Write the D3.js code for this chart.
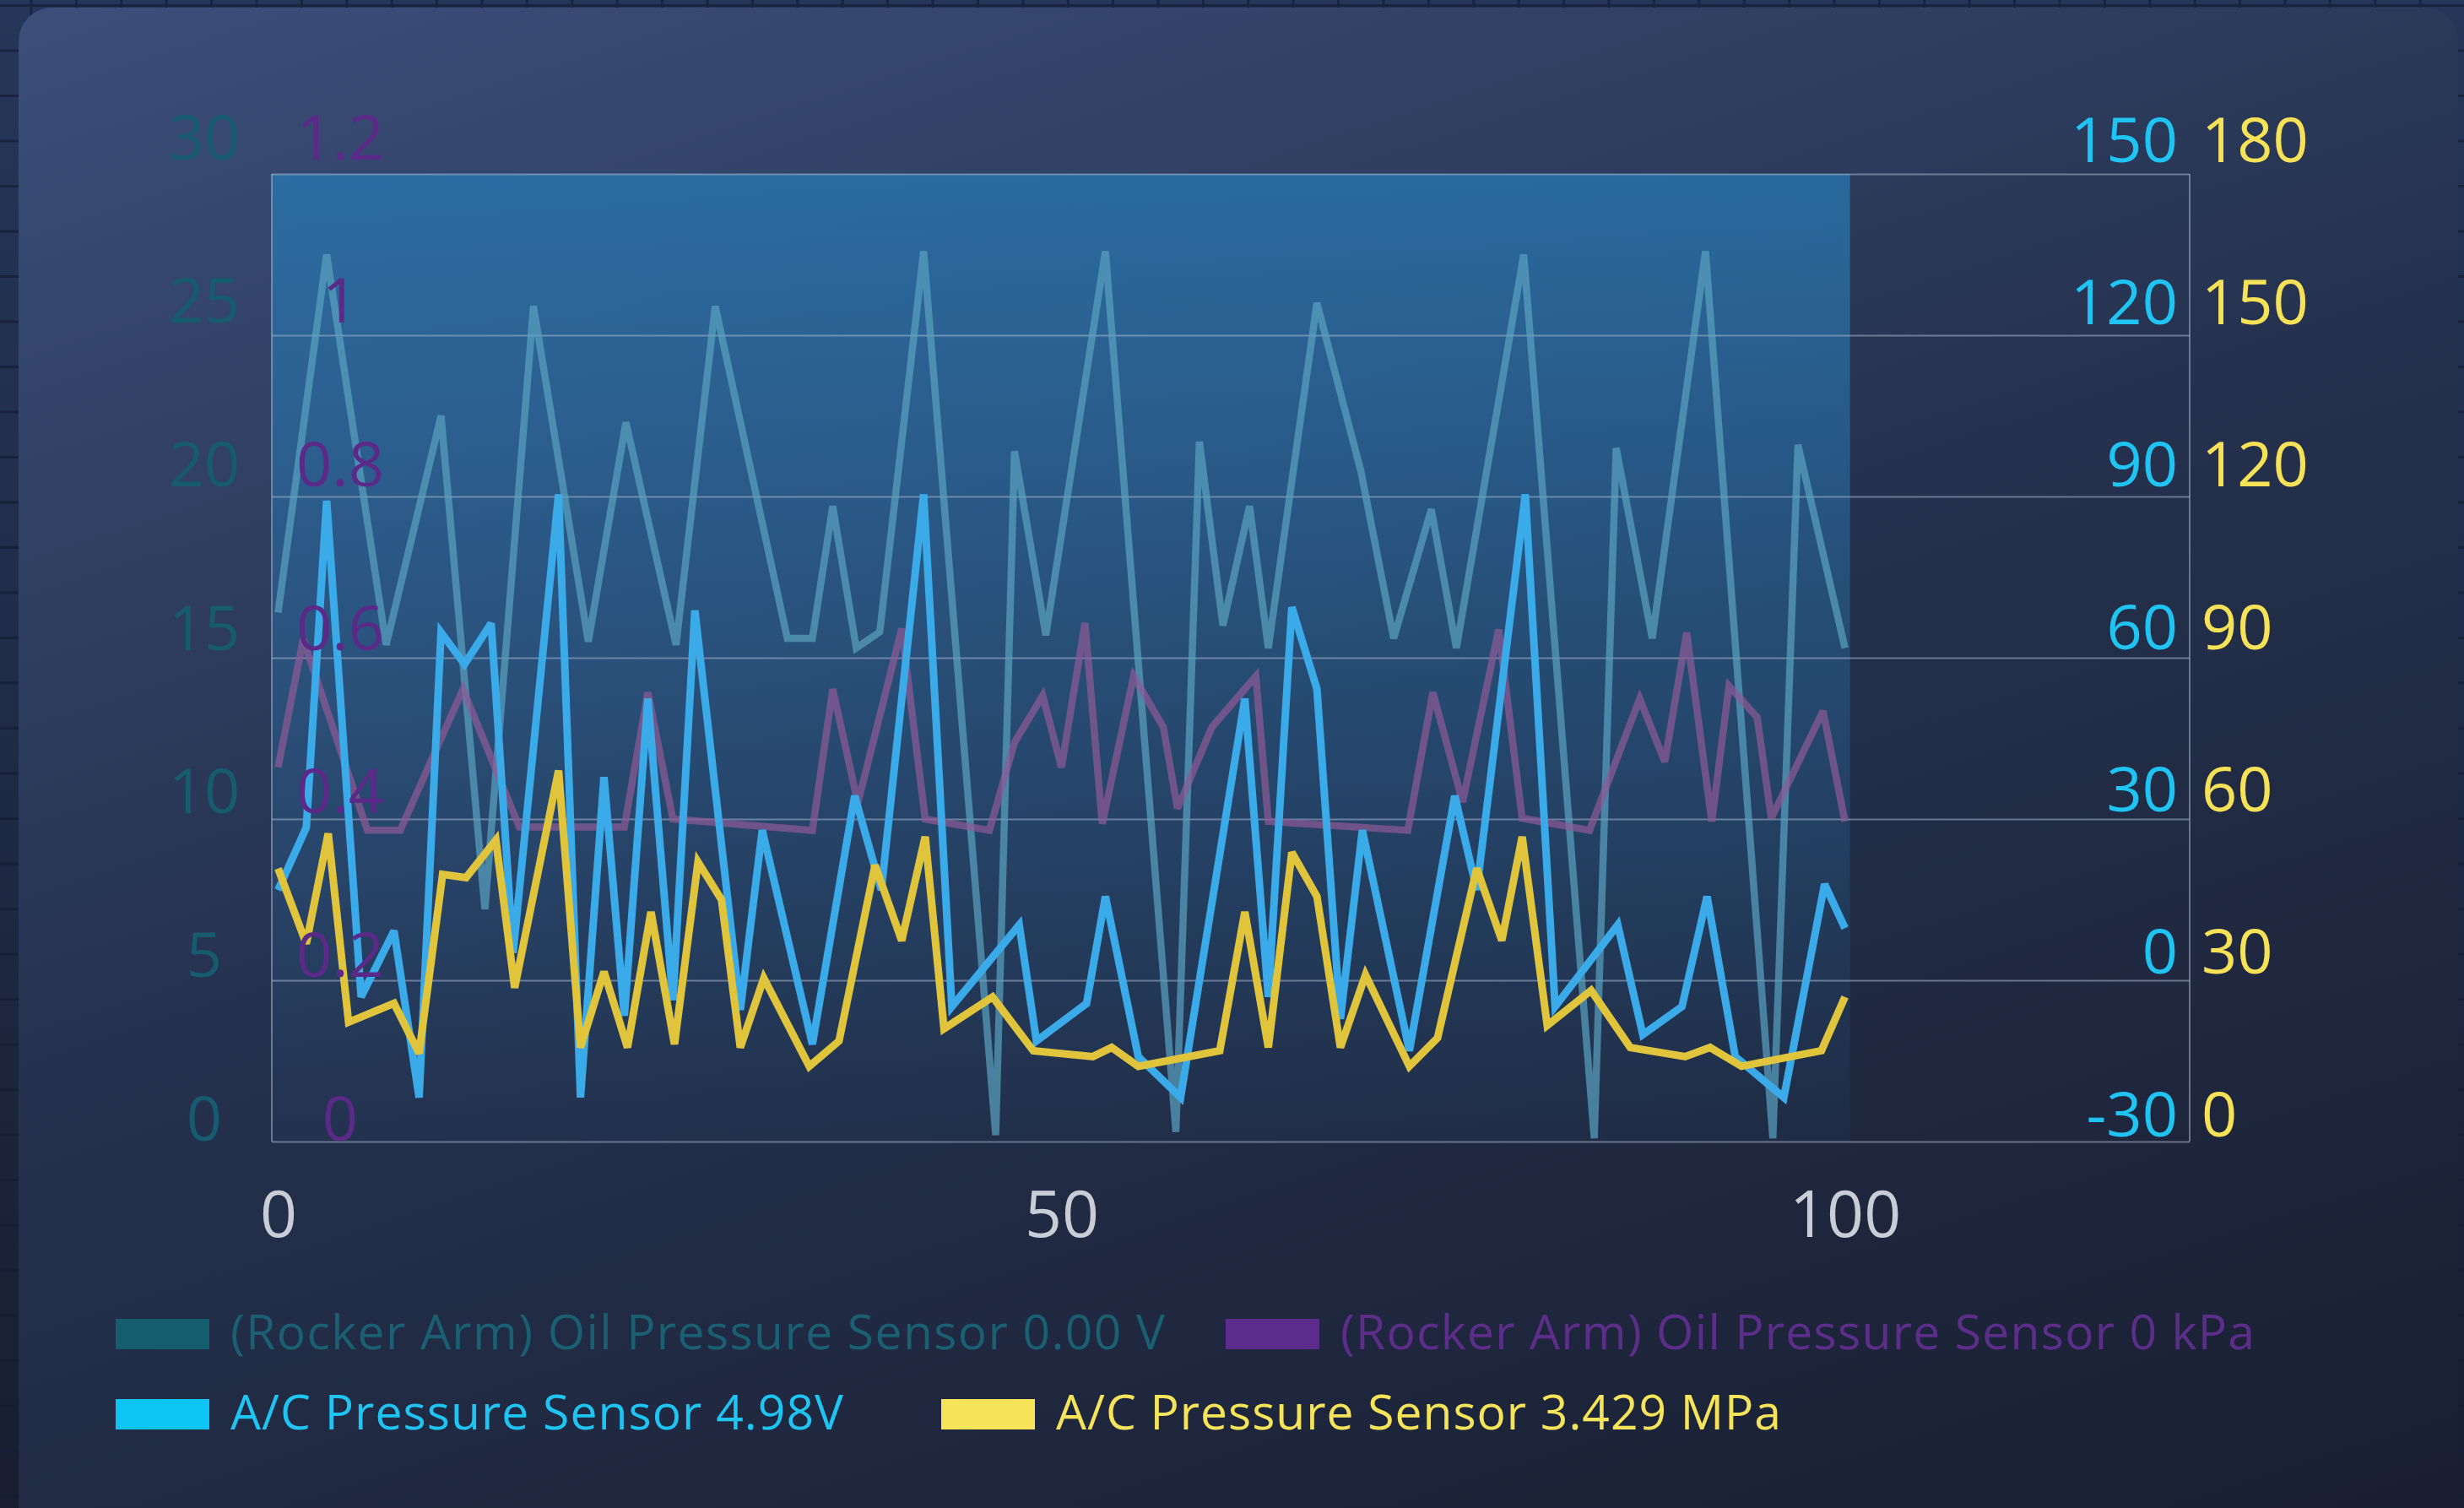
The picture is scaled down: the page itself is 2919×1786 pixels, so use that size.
<!DOCTYPE html>
<html><head><meta charset="utf-8">
<script src="https://cdn.jsdelivr.net/npm/d3@7/dist/d3.min.js"></script>
<style>html,body{margin:0;padding:0;background:#1b2236;overflow:hidden}</style>
</head><body>
<svg id="chart" width="2919" height="1786"></svg>
<script>
// ---------------- DATA ----------------
const seriesNames = [
  "(Rocker Arm) Oil Pressure Sensor 0.00 V",
  "(Rocker Arm) Oil Pressure Sensor 0 kPa",
  "A/C Pressure Sensor 4.98V",
  "A/C Pressure Sensor 3.429 MPa"
];
const xTicks = [0, 50, 100];
const tealTicks = [0, 5, 10, 15, 20, 25, 30];
const purpleTicks = [0, 0.2, 0.4, 0.6, 0.8, 1, 1.2];
const blueTicks = [-30, 0, 30, 60, 90, 120, 150];
const yellowTicks = [0, 30, 60, 90, 120, 150, 180];

const tealX = [0, 3.1, 6.9, 10.4, 13.2, 16.3, 19.8, 22.2, 25.4, 27.9, 32.5, 34.1, 35.4, 36.9, 38.4, 41.2, 45.8, 47.0, 49.0, 52.8, 57.3, 58.8, 60.3, 62.0, 63.2, 66.3, 69.1, 71.2, 73.6, 75.2, 79.5, 84.0, 85.4, 87.7, 91.1, 95.4, 97.0, 100];
const tealY = [16.4, 27.5, 15.4, 22.5, 7.2, 25.9, 15.5, 22.3, 15.4, 25.9, 15.6, 15.6, 19.7, 15.3, 15.8, 27.6, 0.2, 21.4, 15.7, 27.6, 0.3, 21.7, 16.0, 19.7, 15.3, 26.0, 20.8, 15.6, 19.6, 15.3, 27.5, 0.1, 21.5, 15.6, 27.6, 0.1, 21.6, 15.3];

const purpleX = [0, 1.6, 5.7, 7.8, 11.8, 15.4, 22.1, 23.6, 25.2, 34.1, 35.4, 37.0, 39.8, 41.3, 45.4, 47.0, 48.8, 50.0, 51.5, 52.6, 54.6, 56.5, 57.4, 59.6, 62.4, 63.2, 72.1, 73.7, 75.6, 77.9, 79.4, 83.7, 86.9, 88.5, 89.9, 91.5, 92.6, 94.4, 95.3, 98.6, 100];
const purpleY = [0.464, 0.623, 0.386, 0.386, 0.561, 0.39, 0.39, 0.557, 0.40, 0.386, 0.561, 0.42, 0.636, 0.40, 0.386, 0.495, 0.553, 0.464, 0.643, 0.394, 0.577, 0.514, 0.413, 0.514, 0.577, 0.397, 0.386, 0.557, 0.421, 0.635, 0.401, 0.386, 0.549, 0.471, 0.631, 0.397, 0.565, 0.526, 0.401, 0.534, 0.397];

const blueX = [0, 1.8, 3.1, 5.3, 7.4, 9.0, 10.4, 11.9, 13.6, 15.0, 17.9, 19.3, 20.8, 22.1, 23.6, 25.2, 26.6, 29.5, 30.9, 34.1, 36.8, 38.5, 41.2, 43.0, 47.3, 48.4, 51.6, 52.8, 54.9, 57.6, 61.7, 63.2, 64.7, 66.3, 67.8, 69.2, 72.2, 75.1, 76.5, 79.6, 81.5, 85.5, 87.1, 89.6, 91.2, 93.0, 96.1, 98.7, 100];
const blueY = [16.8, 28.4, 89.2, -3.1, 9.2, -21.8, 64.7, 58.8, 66.4, 5.1, 90.4, -21.8, 37.8, -6.6, 52.4, -3.7, 68.8, -5.5, 27.9, -11.9, 34.3, 16.8, 90.4, -4.9, 10.3, -11.3, -4.3, 15.6, -14.2, -21.8, 52.4, -3.1, 69.4, 54.2, -7.2, 27.9, -13.1, 34.3, 16.8, 90.4, -4.9, 10.3, -10.1, -4.9, 15.6, -14.2, -21.8, 17.9, 9.7];

const yellowX = [0, 1.8, 3.2, 4.5, 7.4, 9.0, 10.5, 12.0, 13.9, 15.1, 17.9, 19.3, 20.8, 22.3, 23.8, 25.3, 26.8, 28.3, 29.5, 31.0, 33.9, 35.8, 38.1, 39.8, 41.3, 42.5, 45.6, 48.2, 52.0, 53.2, 54.9, 60.1, 61.7, 63.2, 64.7, 66.3, 67.8, 69.4, 72.2, 74.0, 76.5, 78.1, 79.4, 81.0, 83.8, 86.3, 89.8, 91.4, 93.4, 98.5, 100];
const yellowY = [50.8, 36.8, 57.3, 22.2, 25.7, 16.4, 49.7, 49.1, 56.1, 28.6, 69.0, 17.5, 31.6, 17.5, 42.7, 18.1, 52.0, 45.0, 17.5, 30.4, 14.0, 18.7, 51.4, 37.4, 56.7, 21.0, 26.9, 16.9, 15.8, 17.5, 14.0, 16.9, 42.7, 17.5, 53.8, 45.6, 17.5, 31.0, 14.0, 19.3, 50.8, 37.4, 56.7, 21.6, 28.1, 17.5, 15.8, 17.5, 14.0, 16.9, 26.9];

// ---------------- LAYOUT ----------------
const W = 2919, H = 1786;
const L = 322, R = 2594, T = 206, B = 1352;
const FONT = "'Open Sans', 'Noto Sans', sans-serif";

const svg = d3.select("#chart");
const defs = svg.append("defs");

// outer background
const og = defs.append("linearGradient").attr("id", "outerG").attr("x1", 0).attr("y1", 0).attr("x2", 0).attr("y2", 1);
og.append("stop").attr("offset", 0).attr("stop-color", "#26365a");
og.append("stop").attr("offset", 1).attr("stop-color", "#181e30");
svg.append("rect").attr("width", W).attr("height", H).attr("fill", "url(#outerG)");
const bgGrid = svg.append("g").attr("stroke", "#141d33").attr("stroke-width", 3).attr("opacity", 0.7);
d3.range(37, W, 53.4).forEach(v => bgGrid.append("line").attr("x1", v).attr("x2", v).attr("y1", 0).attr("y2", H));
d3.range(6.5, H, 53.5).forEach(v => bgGrid.append("line").attr("y1", v).attr("y2", v).attr("x1", 0).attr("x2", W));

// card
const cg = defs.append("linearGradient").attr("id", "cardG").attr("gradientUnits", "userSpaceOnUse")
  .attr("x1", 0).attr("y1", 0).attr("x2", 800).attr("y2", 2471);
cg.append("stop").attr("offset", 0).attr("stop-color", "rgb(60,79,122)");
cg.append("stop").attr("offset", 0.5).attr("stop-color", "rgb(36,48,76)");
cg.append("stop").attr("offset", 1).attr("stop-color", "rgb(25,31,49)");
svg.append("rect").attr("x", 22).attr("y", 9).attr("width", 2890).attr("height", 1830).attr("rx", 40)
  .attr("fill", "url(#cardG)");

// scales
const x = d3.scaleLinear().domain([-0.4, 122]).range([L, R]);
const yTeal = d3.scaleLinear().domain([0, 30]).range([B, T]);
const yPurple = d3.scaleLinear().domain([0, 1.2]).range([B, T]);
const yBlue = d3.scaleLinear().domain([-30, 150]).range([B, T]);
const yYellow = d3.scaleLinear().domain([0, 180]).range([B, T]);

// shaded data region
const sg = defs.append("linearGradient").attr("id", "shadeG").attr("x1", 0).attr("y1", 0).attr("x2", 0).attr("y2", 1);
sg.append("stop").attr("offset", 0).attr("stop-color", "rgb(40,120,178)").attr("stop-opacity", 0.75);
sg.append("stop").attr("offset", 0.5).attr("stop-color", "rgb(40,120,178)").attr("stop-opacity", 0.38);
sg.append("stop").attr("offset", 1).attr("stop-color", "rgb(40,120,178)").attr("stop-opacity", 0.04);
const dataMax = d3.max(tealX);
svg.append("rect").attr("x", L).attr("y", T).attr("width", x(dataMax) + 6 - L).attr("height", B - T)
  .attr("fill", "url(#shadeG)");

// gridlines
const gridColor = "rgba(165,180,205,0.55)";
const grid = svg.append("g").attr("transform", `translate(${L},0)`)
  .call(d3.axisRight(yTeal).tickValues(tealTicks).tickSize(R - L).tickFormat(""));
grid.select(".domain").remove();
grid.selectAll("line").attr("stroke", gridColor).attr("stroke-width", 2);
svg.append("line").attr("x1", L).attr("x2", L).attr("y1", T).attr("y2", B).attr("stroke", gridColor).attr("stroke-width", 2);
svg.append("line").attr("x1", R).attr("x2", R).attr("y1", T).attr("y2", B).attr("stroke", gridColor).attr("stroke-width", 2);

// lines
const series = [
  {xs: tealX, ys: tealY, y: yTeal, color: "rgba(90,162,192,0.7)", w: 8.5},
  {xs: purpleX, ys: purpleY, y: yPurple, color: "rgba(140,90,150,0.72)", w: 8.5},
  {xs: blueX, ys: blueY, y: yBlue, color: "#3aaae8", w: 9},
  {xs: yellowX, ys: yellowY, y: yYellow, color: "#dfc43c", w: 9}
];
series.forEach(s => {
  const line = d3.line().x(d => x(d[0])).y(d => s.y(d[1]));
  svg.append("path").datum(d3.zip(s.xs, s.ys)).attr("d", line)
    .attr("fill", "none").attr("stroke", s.color).attr("stroke-width", s.w)
    .attr("stroke-linejoin", "miter").attr("stroke-miterlimit", 3);
});

// axis labels (drawn above the lines)
function styleAxis(g, color, anchor, size, offFn) {
  g.select(".domain").remove();
  g.attr("font-family", FONT).attr("font-size", size);
  g.selectAll(".tick line").remove();
  g.selectAll(".tick text").attr("fill", color).attr("text-anchor", anchor)
    .attr("x", 0).attr("dy", null).attr("y", (d, i) => offFn(i));
}
const fmt = d => String(d);
const axTeal = svg.append("g").attr("transform", "translate(242,0)")
  .call(d3.axisLeft(yTeal).tickValues(tealTicks).tickSize(0).tickPadding(0).tickFormat(fmt));
styleAxis(axTeal, "#165b6e", "middle", 74, i => -2 - 16 * i / 6);
const axPurple = svg.append("g").attr("transform", "translate(403,0)")
  .call(d3.axisLeft(yPurple).tickValues(purpleTicks).tickSize(0).tickPadding(0).tickFormat(fmt));
styleAxis(axPurple, "#5b2a88", "middle", 74, i => -2 - 16 * i / 6);
const axBlue = svg.append("g").attr("transform", "translate(2580,0)")
  .call(d3.axisRight(yBlue).tickValues(blueTicks).tickSize(0).tickPadding(0).tickFormat(fmt));
styleAxis(axBlue, "#1fc4f2", "end", 74, i => -7 - 8 * i / 6);
const axYellow = svg.append("g").attr("transform", "translate(2608,0)")
  .call(d3.axisRight(yYellow).tickValues(yellowTicks).tickSize(0).tickPadding(0).tickFormat(fmt));
styleAxis(axYellow, "#f6e257", "start", 74, i => -7 - 8 * i / 6);
const axX = svg.append("g").attr("transform", `translate(0,${B})`)
  .call(d3.axisBottom(x).tickValues(xTicks).tickSize(0).tickPadding(0).tickFormat(fmt));
styleAxis(axX, "#c9cdd6", "middle", 77, () => 113);

// legend
const legendColors = ["#145e70", "#5b2c8b", "#0cc5f5", "#f8e45b"];
const legendText = ["#1a5f72", "#5c2e8a", "#1ec5f2", "#f5e35a"];
const legendPos = [[137, 1562], [1452, 1562], [137, 1657], [1115, 1657]];
const legendW = [1107, 1083, 726, 859];
const lg = svg.append("g").attr("font-family", FONT).attr("font-size", 57);
seriesNames.forEach((n, i) => {
  const [lx, ly] = legendPos[i];
  lg.append("rect").attr("x", lx).attr("y", ly).attr("width", 111).attr("height", 36).attr("fill", legendColors[i]);
  lg.append("text").attr("x", lx + 136).attr("y", ly + 36).attr("fill", legendText[i])
    .attr("textLength", legendW[i]).attr("lengthAdjust", "spacing").text(n);
});
</script>
</body></html>
